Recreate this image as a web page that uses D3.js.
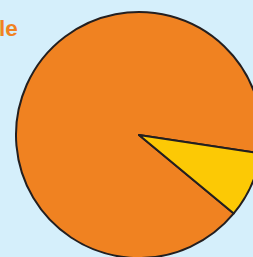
<!DOCTYPE html>
<html>
<head>
<meta charset="utf-8">
<script src="https://cdn.jsdelivr.net/npm/d3@7"></script>
<style>
  html, body { margin: 0; padding: 0; background: #d5effb; overflow: hidden; }
</style>
</head>
<body>
<div id="chart"></div>
<script>
const labels = ["Other", "Highlight"];
const values = [91.4, 8.6];
const colors = ["#f08221", "#fcc905"];
const title = "le";

const width = 253, height = 257;
const cx = 139, cy = 135, r = 123;

const svg = d3.select("#chart").append("svg")
    .attr("width", width)
    .attr("height", height);

svg.append("text")
    .attr("x", -1)
    .attr("y", 36)
    .attr("font-family", "Liberation Sans, Arial, sans-serif")
    .attr("font-weight", "bold")
    .attr("font-size", "22.5px")
    .attr("fill", "#f08221")
    .text(title);

// orange slice starts where the yellow one ends (about 129.6 deg clockwise from top)
const pie = d3.pie().sort(null)
    .startAngle(129.6 * Math.PI / 180)
    .endAngle(129.6 * Math.PI / 180 + 2 * Math.PI);
const arc = d3.arc().innerRadius(0).outerRadius(r);

const g = svg.append("g").attr("transform", `translate(${cx},${cy})`);

g.selectAll("path")
    .data(pie(values))
    .enter()
    .append("path")
    .attr("d", arc)
    .attr("fill", (d, i) => colors[i])
    .attr("stroke", "#231f20")
    .attr("stroke-width", 2)
    .attr("stroke-linejoin", "round");
</script>
</body>
</html>
